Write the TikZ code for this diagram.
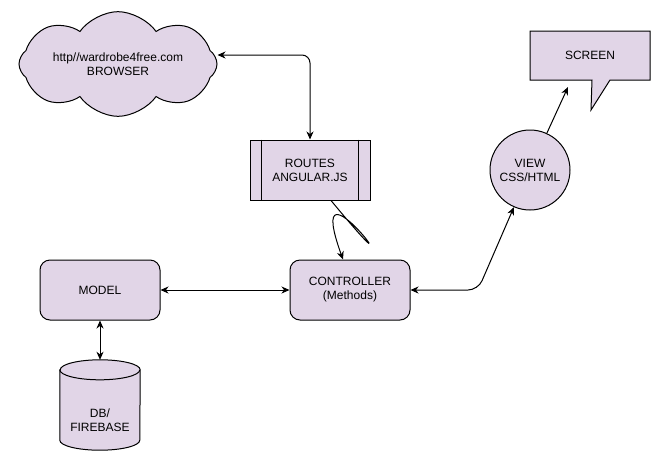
\documentclass[tikz,border=0pt]{standalone}
\usepackage{fontspec}
\setmainfont{Liberation Sans}
\usetikzlibrary{arrows.meta,shapes.geometric,shapes.symbols}
\definecolor{lilac}{RGB}{225, 213, 231}

\begin{document}
\begin{tikzpicture}[x=1pt, y=-1pt,
    box/.style={draw=black, fill=lilac, line width=1pt, align=center, font=\fontsize{12}{14}\selectfont},
    txt/.style={align=center, font=\fontsize{12}{14}\selectfont},
    link/.style={line width=1pt, -{Stealth[length=8pt, width=7pt, inset=2.5pt]}},
    both/.style={line width=1pt, {Stealth[length=8pt, width=7pt, inset=2.5pt]}-{Stealth[length=8pt, width=7pt, inset=2.5pt]}}]
  \useasboundingbox (0,0) rectangle (651,451);
  \node[box, cloud, cloud puffs=8, cloud puff arc=110, aspect=2.7, minimum width=198pt, minimum height=70pt] (browser) at (118,64) {http//wardrobe4free.com\\BROWSER};
  \node[box, minimum width=120pt, minimum height=60pt] (routes) at (310,170) {ROUTES\\ANGULAR.JS};
  \draw[line width=1pt] ([xshift=12pt]routes.north west) -- ([xshift=12pt]routes.south west)
                        ([xshift=-12pt]routes.north east) -- ([xshift=-12pt]routes.south east);
  \node[box, rounded corners=10pt, minimum width=120pt, minimum height=60pt] (controller) at (350,290) {CONTROLLER\\(Methods)};
  \node[box, rounded corners=10pt, minimum width=120pt, minimum height=60pt] (model) at (100,290) {MODEL};
  \node[box, circle, minimum size=80pt, inner sep=0pt] (view) at (530,170) {VIEW\\CSS/HTML};
  \filldraw[box] (530,31) -- (650,31) -- (650,80) -- (610,80) -- (591,110) -- (592,80) -- (530,80) -- cycle;
  \node[txt] (screen) at (590,55) {SCREEN};
  \coordinate (screentip) at (568,87);
  \node[minimum width=80pt, minimum height=90pt] (db) at (100,405) {};
  \filldraw[box] ([yshift=-10pt]db.north west) -- ([yshift=10pt]db.south west)
        arc[start angle=180, end angle=360, x radius=40pt, y radius=10pt] -- ([yshift=-10pt]db.north east)
        arc[start angle=0, end angle=180, x radius=40pt, y radius=10pt] -- cycle;
  \draw[line width=1pt] ([yshift=-10pt]db.north west) arc[start angle=180, end angle=360, x radius=40pt, y radius=10pt];
  \node[txt] (dblabel) at (100,420) {DB/\\FIREBASE};
  \coordinate (bend) at (478,290);
  \draw[both, rounded corners=8pt] ([yshift=9pt]browser.east) -| (routes.north);
  \draw[link] ([xshift=21pt]routes.south) .. controls (430,320) and (300,140) .. ([xshift=-7pt]controller.north);
  \draw[both] (model) -- (controller);
  \draw[both] (model) -- (db);
  \draw[both, rounded corners=10pt] (controller.east) -- (bend) -- (view);
  \draw[link] (view) -- (screentip);
\end{tikzpicture}
\end{document}
